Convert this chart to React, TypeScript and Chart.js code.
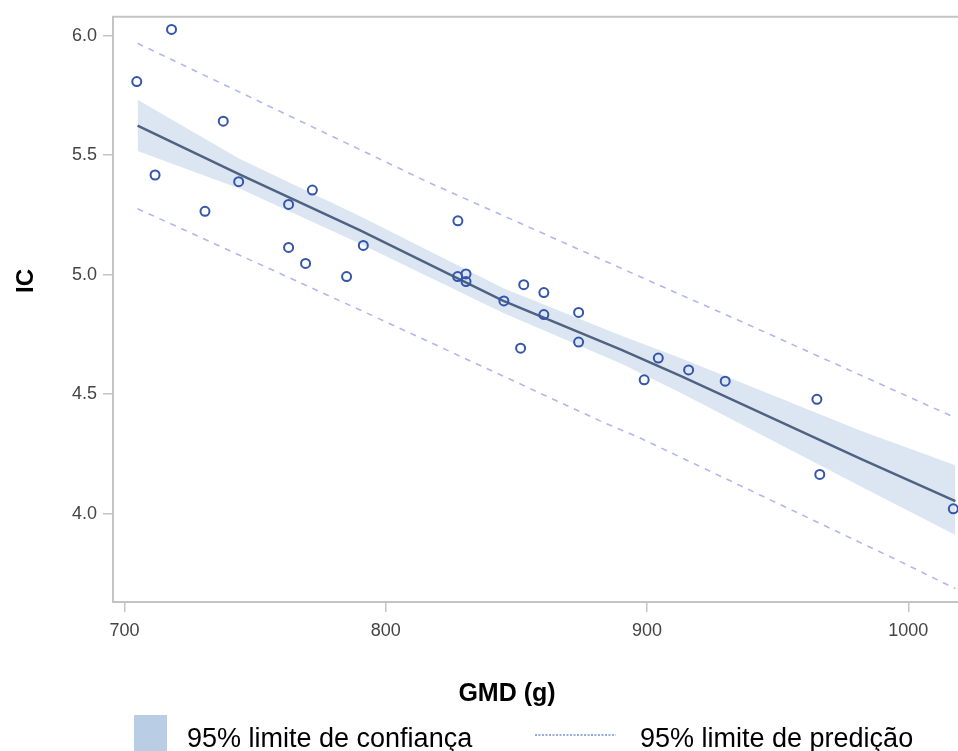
import React, { useEffect, useRef } from 'react';
import { Chart, registerables } from 'chart.js';

Chart.register(...registerables);

// Observed data (GMD in g, IC)
const gmd = [704.7, 718.0, 711.7, 730.8, 737.8, 743.7, 762.8, 762.8, 771.9, 769.3, 785.0, 791.4, 827.6, 827.5, 830.7, 830.7, 845.2, 852.8, 860.5, 860.5, 851.6, 873.8, 873.8, 904.3, 898.9, 915.9, 929.9, 965.0, 966.1, 1017.2];
const ic = [5.808, 6.026, 5.417, 5.265, 5.642, 5.389, 5.294, 5.114, 5.354, 5.047, 4.992, 5.122, 5.225, 4.992, 5.003, 4.971, 4.890, 4.958, 4.925, 4.833, 4.692, 4.842, 4.718, 4.651, 4.560, 4.601, 4.554, 4.478, 4.164, 4.020];

// Fitted line and 95% confidence band
const fitX = [705, 744, 790, 845, 890, 913, 982, 1018];
const fitY = [5.624, 5.42, 5.186, 4.890, 4.686, 4.575, 4.228, 4.052];
const ciUpper = [5.732, 5.485, 5.245, 4.943, 4.745, 4.650, 4.346, 4.202];
const ciLower = [5.517, 5.36, 5.130, 4.839, 4.628, 4.505, 4.112, 3.910];

// 95% prediction limits
const predUpperX = [705, 816, 913, 936, 1018];
const predUpper = [5.968, 5.388, 4.915, 4.804, 4.401];
const predLowerX = [705, 790, 882, 897, 996, 1018];
const predLower = [5.276, 4.853, 4.388, 4.318, 3.804, 3.686];

// Axis ticks
const xTicks = [700, 800, 900, 1000];
const yTicks = [4.0, 4.5, 5.0, 5.5, 6.0];

const xTitle = 'GMD (g)';
const yTitle = 'IC';
const legendLabels = ['95% limite de confiança', '95% limite de predição'];

const FONT = '"Liberation Sans", Arial, Helvetica, sans-serif';
const AXIS_GREY = '#c4c4c4';
const BAND = '#dce6f2';
const BAND_LEGEND = '#b9cde5';
const FIT = '#4f6282';
const POINT = '#3355aa';
const PRED = '#b3b7ea';

const toXY = (xs: number[], ys: number[]) => xs.map((x, i) => ({ x, y: ys[i] }));

const decor = {
  id: 'decor',
  afterDraw(chart: any) {
    const { ctx, chartArea } = chart;
    ctx.save();
    // top frame line
    ctx.strokeStyle = AXIS_GREY;
    ctx.lineWidth = 2;
    ctx.beginPath();
    ctx.moveTo(chartArea.left - 1, chartArea.top);
    ctx.lineTo(chartArea.right, chartArea.top);
    ctx.stroke();

    // axis titles
    ctx.fillStyle = '#000';
    ctx.font = `bold 25px ${FONT}`;
    ctx.textAlign = 'center';
    ctx.textBaseline = 'alphabetic';
    ctx.fillText(xTitle, 507, 701);

    ctx.save();
    ctx.font = `bold 24px ${FONT}`;
    ctx.translate(33, 281);
    ctx.rotate(-Math.PI / 2);
    ctx.fillText(yTitle, 0, 0);
    ctx.restore();

    // legend
    ctx.fillStyle = BAND_LEGEND;
    ctx.fillRect(134, 715, 33, 40);
    ctx.fillStyle = '#000';
    ctx.font = `27px ${FONT}`;
    ctx.textAlign = 'left';
    ctx.fillText(legendLabels[0], 187, 747);

    ctx.strokeStyle = '#97acd9';
    ctx.lineWidth = 2;
    ctx.setLineDash([2, 1.5]);
    ctx.beginPath();
    ctx.moveTo(535, 735);
    ctx.lineTo(616, 735);
    ctx.stroke();
    ctx.setLineDash([]);
    ctx.fillText(legendLabels[1], 640, 747);
    ctx.restore();
  },
};

export default function App() {
  const ref = useRef<HTMLCanvasElement>(null);

  useEffect(() => {
    if (!ref.current) return;
    const chart = new Chart(ref.current, {
      type: 'line',
      data: {
        datasets: [
          {
            label: 'IC',
            data: toXY(gmd, ic),
            showLine: false,
            pointRadius: 4.5,
            pointBorderWidth: 2,
            pointBorderColor: POINT,
            pointBackgroundColor: 'rgba(0,0,0,0)',
            borderColor: POINT,
            order: 0,
            clip: false,
          },
          {
            label: 'ciLower',
            data: toXY(fitX, ciLower),
            borderWidth: 0,
            borderColor: 'rgba(0,0,0,0)',
            pointRadius: 0,
            fill: false,
            order: 4,
          },
          {
            label: legendLabels[0],
            data: toXY(fitX, ciUpper),
            borderWidth: 0,
            borderColor: 'rgba(0,0,0,0)',
            backgroundColor: BAND,
            pointRadius: 0,
            fill: '-1',
            order: 3,
          },
          {
            label: 'fit',
            data: toXY(fitX, fitY),
            borderColor: FIT,
            borderWidth: 2.5,
            pointRadius: 0,
            fill: false,
            order: 1,
          },
          {
            label: legendLabels[1],
            data: toXY(predUpperX, predUpper),
            borderColor: PRED,
            borderWidth: 1.6,
            borderDash: [6, 6],
            pointRadius: 0,
            fill: false,
            order: 2,
          },
          {
            label: 'predLower',
            data: toXY(predLowerX, predLower),
            borderColor: PRED,
            borderWidth: 1.6,
            borderDash: [6, 6],
            pointRadius: 0,
            fill: false,
            order: 2,
          },
        ],
      },
      options: {
        responsive: false,
        devicePixelRatio: 1,
        animation: false,
        layout: { autoPadding: false, padding: { top: 12, left: 0, right: 0, bottom: 0 } },
        plugins: {
          legend: { display: false },
          tooltip: { enabled: false },
        },
        scales: {
          x: {
            type: 'linear',
            min: 695.6,
            max: 1019,
            afterBuildTicks: (s: any) => {
              s.ticks = xTicks.map((v) => ({ value: v }));
            },
            afterFit: (s: any) => {
              s.height = 149;
            },
            grid: {
              drawOnChartArea: false,
              drawTicks: true,
              tickLength: 10,
              color: AXIS_GREY,
              lineWidth: 1.5,
            },
            border: { color: AXIS_GREY, width: 2 },
            ticks: {
              font: { family: FONT, size: 18 },
              color: '#444',
              padding: 8,
              maxRotation: 0,
              autoSkip: false,
              callback: (v: any) => String(v),
            },
          },
          y: {
            type: 'linear',
            min: 3.63,
            max: 6.079,
            afterBuildTicks: (s: any) => {
              s.ticks = yTicks.map((v) => ({ value: v }));
            },
            afterFit: (s: any) => {
              s.width = 113;
            },
            grid: {
              drawOnChartArea: false,
              drawTicks: true,
              tickLength: 10,
              color: AXIS_GREY,
              lineWidth: 1.5,
            },
            border: { color: AXIS_GREY, width: 2 },
            ticks: {
              font: { family: FONT, size: 18 },
              color: '#444',
              padding: 6,
              autoSkip: false,
              callback: (v: any) => Number(v).toFixed(1),
            },
          },
        },
      },
      plugins: [decor],
    });
    return () => chart.destroy();
  }, []);

  return (
    <div
      style={{
        position: 'fixed',
        left: 0,
        top: 0,
        width: 958,
        height: 751,
        overflow: 'hidden',
        background: '#fff',
      }}
    >
      <canvas ref={ref} width={958} height={751} style={{ display: 'block' }} />
    </div>
  );
}
